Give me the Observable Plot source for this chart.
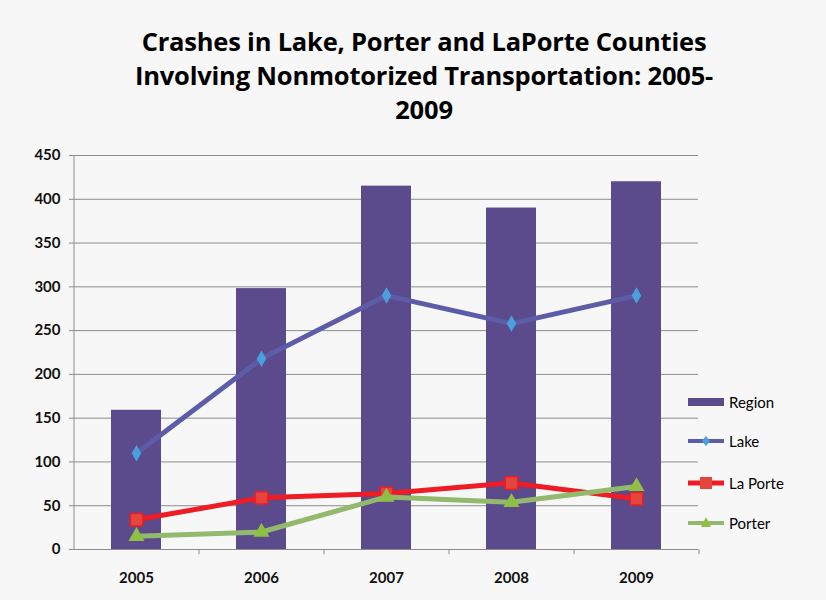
<!DOCTYPE html>
<html><head><meta charset="utf-8">
<script src="https://cdn.jsdelivr.net/npm/d3@7"></script>
<script src="https://cdn.jsdelivr.net/npm/@observablehq/plot@0.6"></script>
<style>
body{margin:0;background:#f7f7f7;font-family:Lato,"Open Sans",sans-serif;}
#wrap{position:relative;width:826px;height:600px;overflow:hidden;}
#title{position:absolute;left:24px;width:800px;top:24px;text-align:center;font-family:"Open Sans",Lato,sans-serif;font-weight:bold;font-size:25.5px;line-height:34px;color:#000;letter-spacing:-0.2px;}
#chart{position:absolute;left:0;top:140px;}
.item{position:absolute;left:686px;height:16px;display:flex;align-items:center;font-size:15px;color:#000;}
.item svg{display:block;margin-right:3px;}
</style>
</head><body>
<div id="wrap">
  <div id="title">Crashes in Lake, Porter and LaPorte Counties<br>Involving Nonmotorized Transportation: 2005-<br>2009</div>
  <div id="chart"></div>
  <div id="legend"></div>
</div>
<script>
const years = ["2005", "2006", "2007", "2008", "2009"];
const region = [159, 298, 415, 390, 420];
const lake = [110, 218, 290, 258, 290];
const laPorte = [34, 59, 64, 76, 58];
const porter = [15, 20, 60, 54, 72];
const yTicks = [0, 50, 100, 150, 200, 250, 300, 350, 400, 450];
const seriesNames = ["Region", "Lake", "La Porte", "Porter"];

const colors = {
  bar: "#5b4a8c",
  lakeLine: "#5d5ca8", lakeDot: "#4a9fdc",
  lpLine: "#ee1c24", lpDot: "#e4463c",
  poLine: "#93b96c", poDot: "#8fc043",
  grid: "#8c8c8c"
};

const data = years.map((y, i) => ({year: y, region: region[i], lake: lake[i], laPorte: laPorte[i], porter: porter[i]}));

const chart = Plot.plot({
  width: 826, height: 460,
  marginLeft: 73, marginRight: 128, marginTop: 15, marginBottom: 51,
  style: {background: "transparent", fontFamily: "Lato, 'Open Sans', sans-serif", fontSize: "15px", fontWeight: "bold", color: "#111"},
  x: {domain: years, paddingInner: 0.6, paddingOuter: 0.3, label: null},
  y: {domain: [0, 450], label: null},
  marks: [
    Plot.gridY(yTicks, {stroke: colors.grid, strokeOpacity: 1}),
    Plot.barY(data, {x: "year", y: "region", fill: colors.bar}),
    Plot.ruleY([0], {stroke: colors.grid}),
    Plot.ruleX([years[0]], {x: d => d, dx: -62.5, stroke: colors.grid}),
    Plot.ruleX(years, {x: d => d, dx: 62.5, y1: 0, y2: -6, stroke: colors.grid}),
    Plot.axisY(yTicks, {tickSize: 4, tickPadding: 9, stroke: colors.grid, label: null}),
    Plot.axisX({tickSize: 0, tickPadding: 23, label: null}),
    Plot.line(data, {x: "year", y: "lake", stroke: colors.lakeLine, strokeWidth: 5}),
    Plot.dot(data, {x: "year", y: "lake", symbol: "diamond", r: 5, fill: colors.lakeDot}),
    Plot.line(data, {x: "year", y: "laPorte", stroke: colors.lpLine, strokeWidth: 5}),
    Plot.dot(data, {x: "year", y: "laPorte", symbol: "square", r: 7, fill: colors.lpDot, stroke: colors.lpLine, strokeWidth: 1.5}),
    Plot.line(data, {x: "year", y: "porter", stroke: colors.poLine, strokeWidth: 5}),
    Plot.dot(data, {x: "year", y: "porter", symbol: "triangle", r: 6, fill: colors.poDot})
  ]
});
document.getElementById("chart").appendChild(chart);

// Legend
const legend = document.getElementById("legend");
const rowsY = [394, 433, 475, 515];
const swatches = [
  `<svg width="40" height="16"><rect x="2" y="4" width="36" height="8" fill="${colors.bar}"/></svg>`,
  `<svg width="40" height="16"><line x1="2" x2="38" y1="8" y2="8" stroke="${colors.lakeLine}" stroke-width="4"/><path d="M20 3 L24 8 L20 13 L16 8 Z" fill="${colors.lakeDot}"/></svg>`,
  `<svg width="40" height="16"><line x1="2" x2="38" y1="8" y2="8" stroke="${colors.lpLine}" stroke-width="5"/><rect x="14" y="2" width="12" height="12" fill="${colors.lpDot}"/></svg>`,
  `<svg width="40" height="16"><line x1="2" x2="38" y1="8" y2="8" stroke="${colors.poLine}" stroke-width="4"/><path d="M20 2 L25 12 L15 12 Z" fill="${colors.poDot}"/></svg>`
];
seriesNames.forEach((name, i) => {
  const d = document.createElement("div");
  d.className = "item";
  d.style.top = rowsY[i] + "px";
  d.innerHTML = swatches[i] + `<span>${name}</span>`;
  legend.appendChild(d);
});
</script>
</body></html>
